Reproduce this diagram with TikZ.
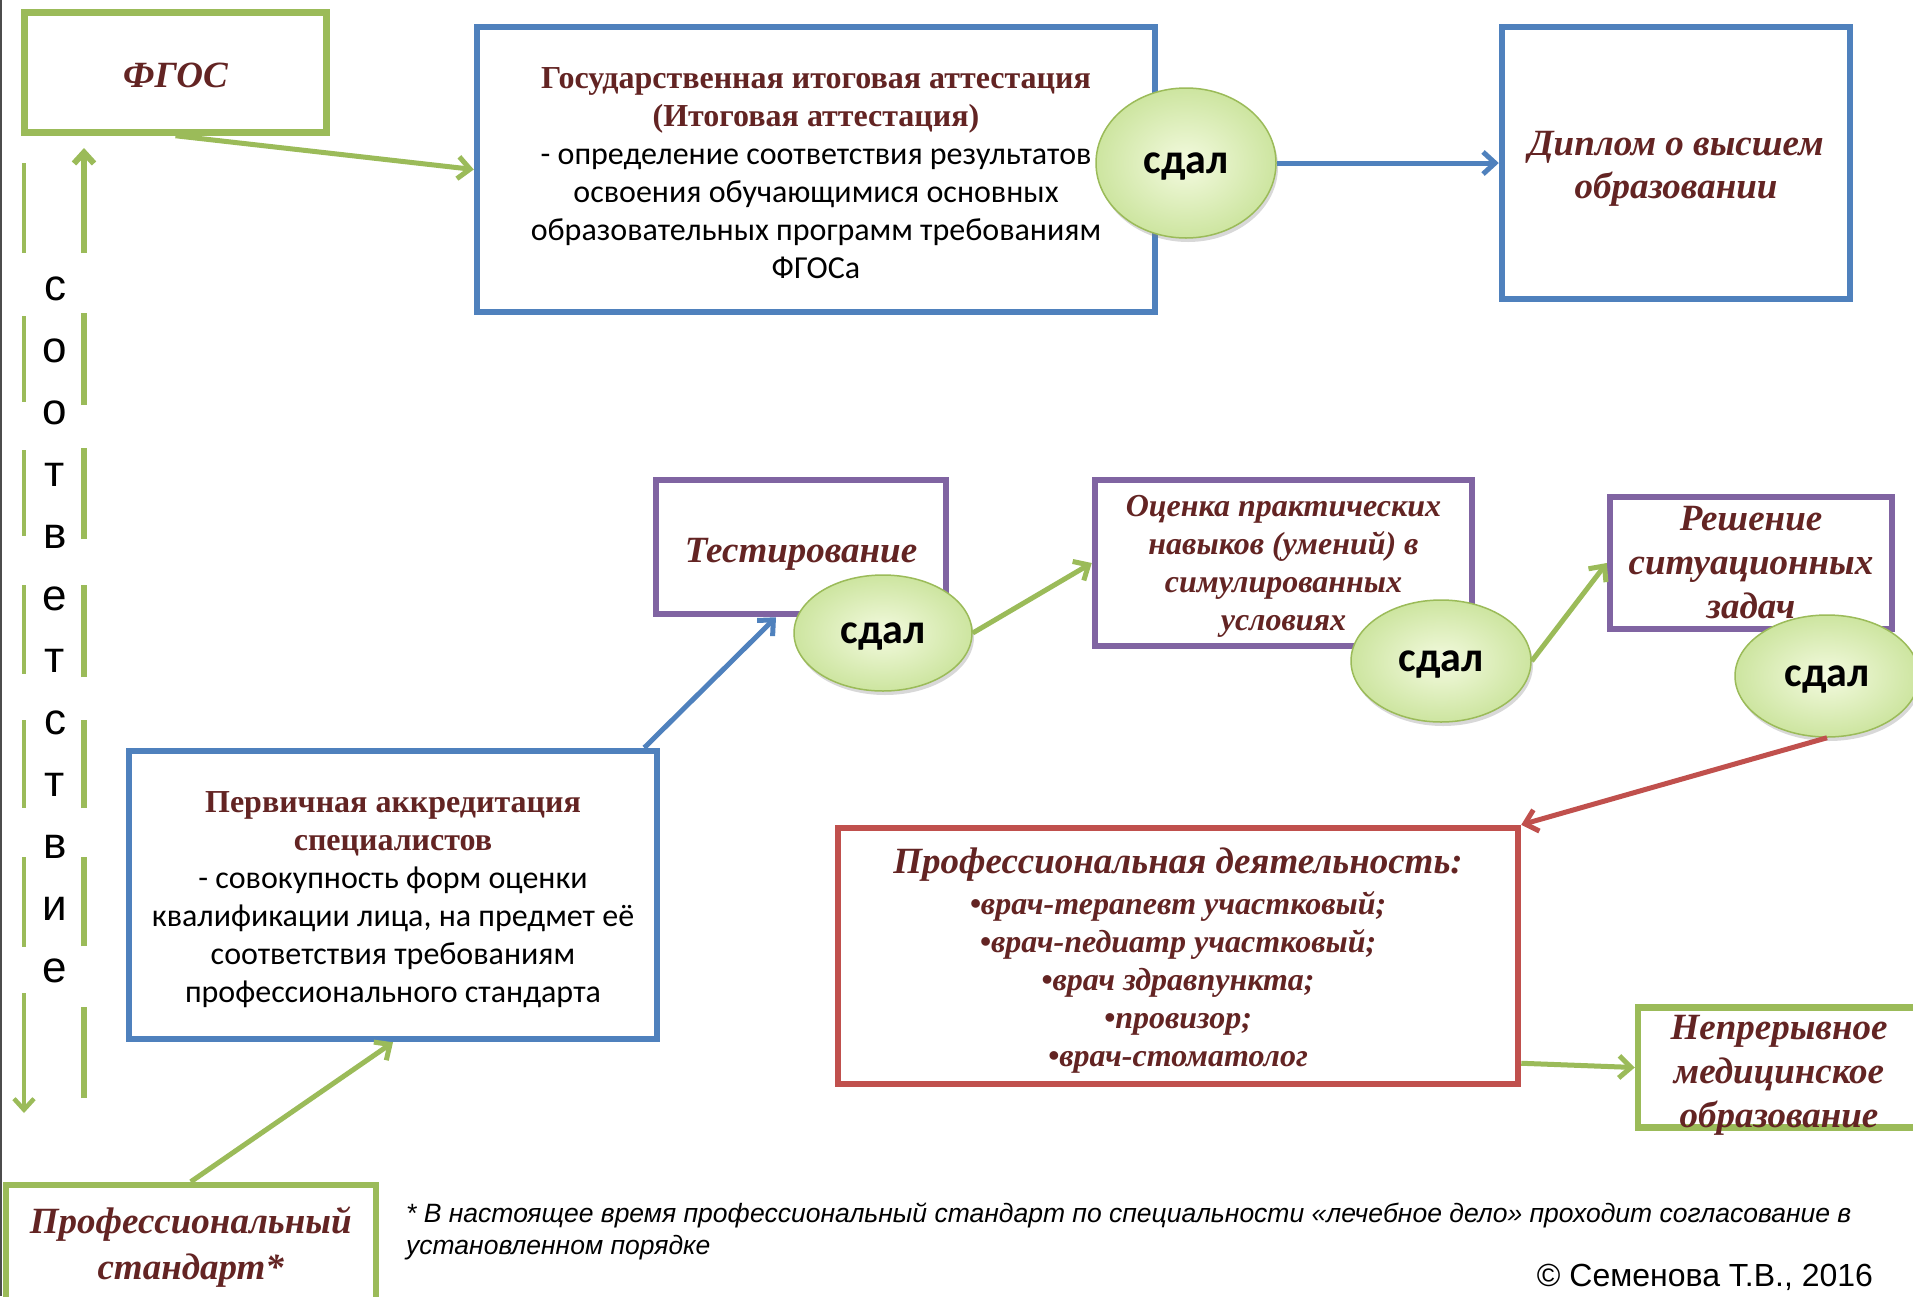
\documentclass[tikz,border=0pt]{standalone}
\usepackage{fontspec}
\setmainfont{Liberation Serif}
\newfontfamily\carlito{Carlito}
\newfontfamily\arialf{Liberation Sans}
\usetikzlibrary{arrows.meta,calc,shadows,shapes.geometric}
\definecolor{gr}{HTML}{9BBB59}
\definecolor{bl}{HTML}{4F81BD}
\definecolor{pu}{HTML}{8064A2}
\definecolor{rd}{HTML}{C0504D}
\definecolor{mar}{HTML}{632423}
\definecolor{elin}{HTML}{F3FADF}
\definecolor{elout}{HTML}{CDE5A0}
\newcommand\fsz[2]{\fontsize{#1}{#2}\selectfont}
\newcommand\myBI{\bfseries\itshape}
\newcommand\ttl[1]{{\bfseries\color{mar}#1}}
\newcommand\bdy[1]{{\carlito\color{black}#1}}
\newcommand\lift[1]{\rule{0pt}{#1pt}}
\begin{document}
\begin{tikzpicture}[x=1pt,y=-1pt,
  box/.style={draw=#1, line width=6.5pt, fill=white, inner sep=0pt, align=center, text=mar},
  sdal/.style={ellipse, draw=gr, line width=1.5pt, inner color=elin, outer color=elout,
     font=\carlito\bfseries\fsz{42}{44}, text=black, inner sep=0pt, text depth=0pt,
     drop shadow={opacity=0.3,shadow xshift=2pt,shadow yshift=-4pt}},
  arr/.style={draw=#1, line width=5pt, -{Straight Barb[length=12pt,width=22pt]}},
  vline/.style={draw=gr, line width=#1, -{Straight Barb[length=11pt,width=20pt]}},
]
\clip (0,0) rectangle (1913,1296);
\fill[white] (0,0) rectangle (1913,1296);
\draw[gray!60!black, line width=2pt] (1,0) -- (1,1296);

% boxes
\node[box=gr, minimum width=302pt, minimum height=120pt, font=\myBI\fsz{37}{40}] (fgos) at (175.5,72.5) {\lift{29.5}ФГОС};
\node[box=bl, minimum width=678pt, minimum height=285pt, font=\fsz{32}{38}] (gia) at (816,169.5)
  {\lift{28}\ttl{Государственная итоговая аттестация}\\\ttl{(Итоговая аттестация)}\\
   \bdy{- определение соответствия результатов}\\\bdy{освоения обучающимися основных}\\\bdy{образовательных программ требованиям}\\\bdy{ФГОСа}};
\node[box=bl, minimum width=348pt, minimum height=272pt, font=\myBI\fsz{37}{43}] (dip) at (1676,163) {\lift{36.5}Диплом о высшем\\образовании};
\node[box=pu, minimum width=290pt, minimum height=134pt, font=\myBI\fsz{37}{40}] (test) at (801,547) {\lift{38.5}Тестирование};
\node[box=pu, minimum width=377pt, minimum height=166pt, font=\myBI\fsz{32}{38}, text depth=0pt] (ocen) at (1283.5,563) {Оценка практических\\навыков (умений) в\\симулированных\\условиях};
\node[box=pu, minimum width=282pt, minimum height=132pt, font=\myBI\fsz{37}{44}] (resh) at (1751,563) {Решение\\ситуационных\\задач};
\node[box=bl, minimum width=528pt, minimum height=288pt, font=\fsz{32}{38}] (perv) at (393,895)
  {\lift{31}\ttl{Первичная аккредитация}\\\ttl{специалистов}\\
   \bdy{- совокупность форм оценки}\\\bdy{квалификации лица, на предмет её}\\\bdy{соответствия требованиям}\\\bdy{профессионального стандарта}};
\node[box=rd, minimum width=680pt, minimum height=256pt, font=\myBI\fsz{32}{38}] (prof) at (1178,956)
  {{\fsz{37}{38}\lift{34.5}Профессиональная деятельность:}\\[3pt]
   •врач-терапевт участковый;\\•врач-педиатр участковый;\\•врач здравпункта;\\•провизор;\\•врач-стоматолог};
\node[box=gr, minimum width=282pt, minimum height=115pt, font=\myBI\fsz{37}{44}, text depth=0pt] (nmo) at (1779,1067.5) {\lift{32}Непрерывное\\медицинское\\образование};
\node[box=gr, minimum width=370pt, minimum height=125pt, font=\myBI\fsz{37}{46}] (pstd) at (190.75,1247.5) {Профессиональный\\стандарт*};

% vertical dashed lines and text
\coordinate (lt) at (24,163);
\coordinate (lb) at (24,1113);
\coordinate (rb) at (84,1098);
\coordinate (rt) at (84,148);
\draw[vline=4.5pt, dash pattern=on 90pt off 63pt on 86pt off 48pt on 86pt off 49pt on 89pt off 46pt on 88pt off 49pt on 90pt off 46pt on 300pt] (lt) -- (lb);
\draw[vline=6pt, dash pattern=on 91pt off 61pt on 89pt off 49pt on 88pt off 43pt on 92pt off 46pt on 91pt off 43pt on 92pt off 60pt on 300pt] (rb) -- (rt);
\node[font=\arialf\fsz{44}{62}, align=center, inner sep=0pt] (sootv) at (55,629.5) {с\\о\\о\\т\\в\\е\\т\\с\\т\\в\\и\\е};

% connectors
\draw[arr=gr] (fgos.south) -- (gia.west);
\draw[arr=bl] ($(perv.north east)+(-16,0)$) -- ($(test.south)+(-25,0)$);
\draw[arr=gr] (pstd.north) -- (perv.south);
\draw[arr=gr] ($(prof.south east)+(0,-24)$) -- (nmo.west);

% pass ellipses
\node[sdal, minimum width=180pt, minimum height=150pt] (s1) at (1186,163) {сдал};
\node[sdal, minimum width=178pt, minimum height=116pt] (s2) at (883,633) {сдал};
\node[sdal, minimum width=180pt, minimum height=122pt] (s3) at (1441,661) {сдал};
\node[sdal, minimum width=184pt, minimum height=122pt] (s4) at (1827,676) {сдал};

\draw[arr=bl] (s1.east) -- (dip.west);
\draw[arr=gr] (s2.east) -- (ocen.west);
\draw[arr=gr] (s3.east) -- (resh.west);
\draw[arr=rd] (s4.south) -- (prof.north east);

% footnote and copyright
\node[font=\arialf\itshape\fsz{26.5}{32}, align=left, anchor=west, inner sep=0pt] (note) at (406,1231)
  {* В настоящее время профессиональный стандарт по специальности «лечебное дело» проходит согласование в\\установленном порядке};
\node[font=\arialf\fsz{32}{34}, inner sep=0pt] (copy) at (1705,1277) {© Семенова Т.В., 2016};
\end{tikzpicture}
\end{document}
